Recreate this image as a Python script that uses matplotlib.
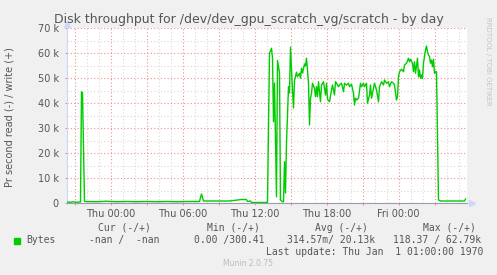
import matplotlib

matplotlib.use("Agg")
import matplotlib.pyplot as plt
from matplotlib.patches import Rectangle
from matplotlib.ticker import FuncFormatter, MultipleLocator

# window starts Wed 20:20, one sample every 5 minutes, 400 samples
window_start_h = -(3 + 20 / 60) - 1 / 3
samples_per_hour = 12

# write throughput (kB/s), at sample numbers
sample = [
    0, 4, 7, 10, 13, 14, 15, 16, 18, 30, 40, 50, 60, 70, 80, 90, 100, 110, 120, 133,
    135, 137, 150, 163, 175, 180, 181, 184, 185, 199, 201, 203, 205, 206, 207, 208,
    210, 211, 213, 214, 216, 217, 218, 219, 220, 222, 223, 224, 226, 227, 228, 230,
    231, 233, 234, 235, 236, 238, 239, 240, 241, 242, 243, 244, 245, 246, 248, 249,
    250, 251, 252, 254, 255, 257, 259, 260, 261, 263, 265, 266, 268, 269, 270, 272,
    273, 275, 277, 278, 280, 282, 283, 285, 287, 288, 289, 290, 292, 294, 295, 297,
    298, 300, 301, 303, 304, 305, 307, 308, 310, 312, 313, 315, 317, 318, 320, 322,
    323, 325, 327, 328, 330, 331, 332, 333, 335, 337, 338, 340, 342, 343, 344, 346,
    347, 348, 349, 351, 352, 353, 354, 355, 356, 357, 359, 360, 361, 362, 363, 364,
    365, 366, 367, 368, 369, 370, 372, 374, 398, 399,
]
write_k = [
    0.4, 0.3, 0.5, 0.3, 0.4, 0.4, 44.5, 44.0, 0.6, 0.5, 0.7, 0.5, 0.6, 0.5, 0.6, 0.5, 0.6, 0.5, 0.6, 0.6,
    3.6, 0.8, 0.8, 0.8, 1.4, 1.4, 0.6, 0.8, 0.2, 0.2, 0.3, 60.0, 61.9, 58.0, 32.5, 48.0,
    2.5, 57.0, 52.0, 1.2, 0.5, 0.5, 16.5, 4.0, 24.0, 46.5, 44.0, 62.3, 45.0, 38.0, 49.0, 52.3,
    50.5, 51.9, 49.9, 53.9, 52.0, 55.6, 54.8, 57.9, 53.2, 47.9, 31.2, 41.9, 43.9, 47.9, 45.9, 42.5,
    46.5, 42.5, 48.5, 40.5, 47.2, 48.5, 43.2, 47.9, 41.5, 40.5, 45.2, 47.2, 43.2, 48.5, 47.9, 46.5,
    47.2, 47.9, 44.5, 47.9, 47.2, 47.9, 46.5, 47.5, 43.9, 39.2, 41.9, 41.2, 41.9, 47.9, 46.5, 47.9,
    46.5, 47.9, 39.9, 43.2, 47.2, 41.9, 45.9, 47.9, 45.2, 40.5, 46.5, 48.5, 47.2, 49.2, 47.9, 48.5,
    46.5, 48.5, 47.9, 47.2, 41.2, 42.5, 50.5, 52.5, 53.5, 52.5, 55.2, 55.9, 57.9, 56.5, 57.5, 55.9,
    52.5, 56.5, 51.9, 57.9, 50.5, 53.2, 49.9, 51.2, 49.9, 55.9, 61.2, 62.8, 60.5, 59.2, 58.5, 55.9,
    57.2, 54.5, 57.5, 51.9, 52.5, 52.5, 1.2, 0.8, 0.8, 1.6,
]

tick_hours = [0, 6, 12, 18, 24]
tick_names = ["Thu 00:00", "Thu 06:00", "Thu 12:00", "Thu 18:00", "Fri 00:00"]

legend_heads = ["Cur (-/+)", "Min (-/+)", "Avg (-/+)", "Max (-/+)"]
legend_values = ["-nan /  -nan", "0.00 /300.41", "314.57m/ 20.13k", "118.37 / 62.79k"]
last_update = "Last update: Thu Jan  1 01:00:00 1970"

W, H = 497, 275
FONT = "#555555"
GREEN = "#00CC00"
AXIS = "#CFD6F8"

fig = plt.figure(figsize=(W / 100, H / 100), dpi=100, facecolor="#F0F0F0")
ax = fig.add_axes([66.5 / W, (H - 203) / H, 400 / W, 175 / H])
ax.set_facecolor("white")

hours = [window_start_h + s / samples_per_hour for s in sample]
bytes_s = [v * 1000 for v in write_k]
ax.plot(hours, bytes_s, color=GREEN, linewidth=1.0, zorder=3)

ax.set_xlim(window_start_h, window_start_h + 400 / samples_per_hour)
ax.set_ylim(0, 70000)

ax.xaxis.set_major_locator(MultipleLocator(3))
ax.xaxis.set_minor_locator(MultipleLocator(1))
ax.yaxis.set_major_locator(MultipleLocator(10000))
ax.yaxis.set_minor_locator(MultipleLocator(5000))


def xlabel(v, pos):
    for h, name in zip(tick_hours, tick_names):
        if abs(v - h) < 1e-6:
            return name
    return ""


ax.xaxis.set_major_formatter(FuncFormatter(xlabel))
ax.yaxis.set_major_formatter(FuncFormatter(lambda v, p: "0" if v == 0 else f"{int(v / 1000)} k"))

ax.grid(True, which="major", color="#F09090", linestyle=(0, (1, 2)), linewidth=0.8)
ax.grid(True, which="minor", color="#D9D9D9", linestyle=(0, (1, 2)), linewidth=0.8)
ax.set_axisbelow(True)

ax.tick_params(axis="x", which="major", length=1.5, width=0.8, color="#F09090",
               labelsize=7, labelcolor=FONT, pad=2.5)
ax.tick_params(axis="y", which="major", length=1.5, width=0.8, color="#AAAAAA",
               labelsize=7, labelcolor=FONT, pad=4)
ax.tick_params(which="minor", length=0)

for side in ("top", "right"):
    ax.spines[side].set_visible(False)
ax.spines["left"].set_color(AXIS)
ax.spines["bottom"].set_color("#9A9AB2")
ax.spines["left"].set_linewidth(0.8)
ax.spines["bottom"].set_linewidth(0.8)

ax.plot([0], [1 + 4 / 175], marker="^", markersize=4.5, color=AXIS,
        transform=ax.transAxes, clip_on=False)
ax.plot([1 + 5 / 400], [0], marker=">", markersize=4.5, color=AXIS,
        transform=ax.transAxes, clip_on=False)

fig.text(248.5 / W, 1 - 19 / H, "Disk throughput for /dev/dev_gpu_scratch_vg/scratch - by day",
         ha="center", va="center", fontsize=9, color=FONT)
fig.text(10 / W, 1 - 117 / H, "Pr second read (-) / write (+)", rotation=90,
         ha="center", va="center", fontsize=7, color=FONT)
fig.text(488 / W, 1 - 61 / H, "RRDTOOL / TOBI OETIKER", rotation=270,
         ha="center", va="center", fontsize=5, color="#C4C4C4")

mono = "DejaVu Sans Mono"
for x, txt in zip([98, 207, 315, 423], legend_heads):
    fig.text(x / W, 1 - 228 / H, txt, ha="left", va="center", fontsize=7,
             family=mono, color=FONT)
fig.patches.append(Rectangle((14 / W, 1 - 243.5 / H), 6 / W, 6 / H, color=GREEN,
                             transform=fig.transFigure, figure=fig))
fig.text(26 / W, 1 - 240 / H, "Bytes", ha="left", va="center", fontsize=7,
         family=mono, color=FONT)
for x, txt in zip([89, 194, 287, 393], legend_values):
    fig.text(x / W, 1 - 240 / H, txt, ha="left", va="center", fontsize=7,
             family=mono, color=FONT)
fig.text(483 / W, 1 - 252 / H, last_update, ha="right", va="center", fontsize=7,
         family=mono, color=FONT)
fig.text(248 / W, 1 - 264 / H, "Munin 2.0.75", ha="center", va="center",
         fontsize=5.5, color="#BBBBBB")

fig.savefig("out.png", dpi=100, facecolor=fig.get_facecolor())
